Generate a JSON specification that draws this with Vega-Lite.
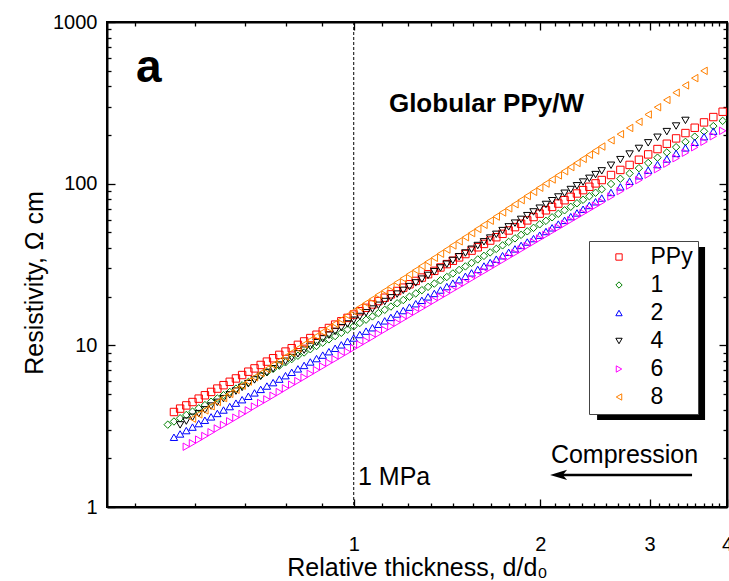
{
"$schema":"https://vega.github.io/schema/vega-lite/v6.json",
"width":620,"height":485,
"autosize":{"type":"none"},
"padding":{"left":107,"top":22,"right":2,"bottom":74},
"background":"white",
"config":{"view":{"stroke":"black","strokeWidth":2},"font":"Liberation Sans",
"axis":{"grid":false,"domainColor":"black","domainWidth":2,"tickColor":"black","tickWidth":1.3,"labelColor":"black","labelFont":"Liberation Sans","labelFontSize":20,"titleFont":"Liberation Sans","titleFontSize":25,"titleFontWeight":"normal","titleColor":"black","labelOverlap":false,"labelFlush":false}},
"datasets":{"pts":[
{"s":"PPy","x":0.5129,"y":3.87},{"s":"PPy","x":0.5248,"y":4.06},{"s":"PPy","x":0.537,"y":4.25},{"s":"PPy","x":0.5495,"y":4.46},{"s":"PPy","x":0.5623,"y":4.68},{"s":"PPy","x":0.5754,"y":4.91},{"s":"PPy","x":0.5888,"y":5.15},{"s":"PPy","x":0.6026,"y":5.40},{"s":"PPy","x":0.6166,"y":5.67},{"s":"PPy","x":0.631,"y":5.95},{"s":"PPy","x":0.6457,"y":6.24},{"s":"PPy","x":0.6607,"y":6.55},{"s":"PPy","x":0.6761,"y":6.87},{"s":"PPy","x":0.6918,"y":7.20},{"s":"PPy","x":0.7079,"y":7.56},{"s":"PPy","x":0.7244,"y":7.93},{"s":"PPy","x":0.7413,"y":8.32},{"s":"PPy","x":0.7586,"y":8.73},{"s":"PPy","x":0.7762,"y":9.15},{"s":"PPy","x":0.7943,"y":9.60},{"s":"PPy","x":0.8128,"y":10.07},{"s":"PPy","x":0.8318,"y":10.57},{"s":"PPy","x":0.8511,"y":11.09},{"s":"PPy","x":0.871,"y":11.63},{"s":"PPy","x":0.8913,"y":12.20},{"s":"PPy","x":0.912,"y":12.80},{"s":"PPy","x":0.9333,"y":13.43},{"s":"PPy","x":0.955,"y":14.09},{"s":"PPy","x":0.9772,"y":14.78},{"s":"PPy","x":1,"y":15.50},{"s":"PPy","x":1.023,"y":16.26},{"s":"PPy","x":1.047,"y":17.06},{"s":"PPy","x":1.072,"y":17.90},{"s":"PPy","x":1.096,"y":18.78},{"s":"PPy","x":1.122,"y":19.70},{"s":"PPy","x":1.148,"y":20.67},{"s":"PPy","x":1.175,"y":21.68},{"s":"PPy","x":1.202,"y":22.74},{"s":"PPy","x":1.23,"y":23.86},{"s":"PPy","x":1.259,"y":25.03},{"s":"PPy","x":1.288,"y":26.26},{"s":"PPy","x":1.318,"y":27.54},{"s":"PPy","x":1.349,"y":28.89},{"s":"PPy","x":1.38,"y":30.31},{"s":"PPy","x":1.413,"y":31.80},{"s":"PPy","x":1.445,"y":33.36},{"s":"PPy","x":1.479,"y":35.00},{"s":"PPy","x":1.514,"y":36.71},{"s":"PPy","x":1.549,"y":38.52},{"s":"PPy","x":1.585,"y":40.41},{"s":"PPy","x":1.622,"y":42.39},{"s":"PPy","x":1.66,"y":44.47},{"s":"PPy","x":1.698,"y":46.64},{"s":"PPy","x":1.738,"y":48.94},{"s":"PPy","x":1.778,"y":51.34},{"s":"PPy","x":1.82,"y":53.85},{"s":"PPy","x":1.862,"y":56.49},{"s":"PPy","x":1.905,"y":59.27},{"s":"PPy","x":1.95,"y":62.18},{"s":"PPy","x":1.995,"y":65.23},{"s":"PPy","x":2.042,"y":68.43},{"s":"PPy","x":2.089,"y":71.78},{"s":"PPy","x":2.138,"y":75.31},{"s":"PPy","x":2.188,"y":79.00},{"s":"PPy","x":2.239,"y":82.88},{"s":"PPy","x":2.291,"y":86.94},{"s":"PPy","x":2.344,"y":91.20},{"s":"PPy","x":2.399,"y":95.68},{"s":"PPy","x":2.455,"y":100.4},{"s":"PPy","x":2.512,"y":105.3},{"s":"PPy","x":2.6,"y":113.1},{"s":"PPy","x":2.692,"y":121.6},{"s":"PPy","x":2.786,"y":130.6},{"s":"PPy","x":2.884,"y":140.6},{"s":"PPy","x":2.985,"y":151.7},{"s":"PPy","x":3.09,"y":163.7},{"s":"PPy","x":3.199,"y":176.6},{"s":"PPy","x":3.311,"y":190.5},{"s":"PPy","x":3.428,"y":205.6},{"s":"PPy","x":3.548,"y":221.8},{"s":"PPy","x":3.673,"y":239.3},{"s":"PPy","x":3.802,"y":258.2},{"s":"PPy","x":3.936,"y":278.6},
{"s":"1","x":0.5012,"y":3.23},{"s":"1","x":0.5129,"y":3.38},{"s":"1","x":0.5248,"y":3.54},{"s":"1","x":0.537,"y":3.71},{"s":"1","x":0.5495,"y":3.89},{"s":"1","x":0.5623,"y":4.08},{"s":"1","x":0.5754,"y":4.27},{"s":"1","x":0.5888,"y":4.48},{"s":"1","x":0.6026,"y":4.69},{"s":"1","x":0.6166,"y":4.92},{"s":"1","x":0.631,"y":5.15},{"s":"1","x":0.6457,"y":5.40},{"s":"1","x":0.6607,"y":5.66},{"s":"1","x":0.6761,"y":5.93},{"s":"1","x":0.6918,"y":6.21},{"s":"1","x":0.7079,"y":6.51},{"s":"1","x":0.7244,"y":6.82},{"s":"1","x":0.7413,"y":7.15},{"s":"1","x":0.7586,"y":7.49},{"s":"1","x":0.7762,"y":7.85},{"s":"1","x":0.7943,"y":8.22},{"s":"1","x":0.8128,"y":8.62},{"s":"1","x":0.8318,"y":9.03},{"s":"1","x":0.8511,"y":9.46},{"s":"1","x":0.871,"y":9.91},{"s":"1","x":0.8913,"y":10.39},{"s":"1","x":0.912,"y":10.89},{"s":"1","x":0.9333,"y":11.41},{"s":"1","x":0.955,"y":11.95},{"s":"1","x":0.9772,"y":12.52},{"s":"1","x":1,"y":13.12},{"s":"1","x":1.023,"y":13.75},{"s":"1","x":1.047,"y":14.41},{"s":"1","x":1.072,"y":15.10},{"s":"1","x":1.096,"y":15.82},{"s":"1","x":1.122,"y":16.58},{"s":"1","x":1.148,"y":17.37},{"s":"1","x":1.175,"y":18.20},{"s":"1","x":1.202,"y":19.07},{"s":"1","x":1.23,"y":19.99},{"s":"1","x":1.259,"y":20.94},{"s":"1","x":1.288,"y":21.94},{"s":"1","x":1.318,"y":22.99},{"s":"1","x":1.349,"y":24.09},{"s":"1","x":1.38,"y":25.25},{"s":"1","x":1.413,"y":26.46},{"s":"1","x":1.445,"y":27.84},{"s":"1","x":1.479,"y":29.27},{"s":"1","x":1.514,"y":30.77},{"s":"1","x":1.549,"y":32.34},{"s":"1","x":1.585,"y":34.00},{"s":"1","x":1.622,"y":35.75},{"s":"1","x":1.66,"y":37.58},{"s":"1","x":1.698,"y":39.50},{"s":"1","x":1.738,"y":41.53},{"s":"1","x":1.778,"y":43.65},{"s":"1","x":1.82,"y":45.89},{"s":"1","x":1.862,"y":48.24},{"s":"1","x":1.905,"y":50.72},{"s":"1","x":1.95,"y":53.31},{"s":"1","x":1.995,"y":56.04},{"s":"1","x":2.042,"y":58.91},{"s":"1","x":2.089,"y":61.93},{"s":"1","x":2.138,"y":65.11},{"s":"1","x":2.188,"y":68.44},{"s":"1","x":2.239,"y":71.95},{"s":"1","x":2.291,"y":75.64},{"s":"1","x":2.344,"y":79.50},{"s":"1","x":2.399,"y":83.59},{"s":"1","x":2.455,"y":87.87},{"s":"1","x":2.512,"y":92.37},{"s":"1","x":2.6,"y":99.56},{"s":"1","x":2.692,"y":107.3},{"s":"1","x":2.786,"y":115.7},{"s":"1","x":2.884,"y":124.7},{"s":"1","x":2.985,"y":134.4},{"s":"1","x":3.09,"y":144.8},{"s":"1","x":3.199,"y":156.1},{"s":"1","x":3.311,"y":168.2},{"s":"1","x":3.428,"y":181.4},{"s":"1","x":3.548,"y":195.4},{"s":"1","x":3.673,"y":210.7},{"s":"1","x":3.802,"y":227.1},{"s":"1","x":3.936,"y":244.7},
{"s":"2","x":0.5129,"y":2.70},{"s":"2","x":0.5248,"y":2.83},{"s":"2","x":0.537,"y":2.97},{"s":"2","x":0.5495,"y":3.12},{"s":"2","x":0.5623,"y":3.28},{"s":"2","x":0.5754,"y":3.44},{"s":"2","x":0.5888,"y":3.61},{"s":"2","x":0.6026,"y":3.79},{"s":"2","x":0.6166,"y":3.98},{"s":"2","x":0.631,"y":4.18},{"s":"2","x":0.6457,"y":4.39},{"s":"2","x":0.6607,"y":4.61},{"s":"2","x":0.6761,"y":4.84},{"s":"2","x":0.6918,"y":5.08},{"s":"2","x":0.7079,"y":5.34},{"s":"2","x":0.7244,"y":5.60},{"s":"2","x":0.7413,"y":5.88},{"s":"2","x":0.7586,"y":6.18},{"s":"2","x":0.7762,"y":6.49},{"s":"2","x":0.7943,"y":6.81},{"s":"2","x":0.8128,"y":7.15},{"s":"2","x":0.8318,"y":7.51},{"s":"2","x":0.8511,"y":7.89},{"s":"2","x":0.871,"y":8.28},{"s":"2","x":0.8913,"y":8.70},{"s":"2","x":0.912,"y":9.13},{"s":"2","x":0.9333,"y":9.59},{"s":"2","x":0.955,"y":10.07},{"s":"2","x":0.9772,"y":10.57},{"s":"2","x":1,"y":11.10},{"s":"2","x":1.023,"y":11.66},{"s":"2","x":1.047,"y":12.24},{"s":"2","x":1.072,"y":12.85},{"s":"2","x":1.096,"y":13.50},{"s":"2","x":1.122,"y":14.17},{"s":"2","x":1.148,"y":14.88},{"s":"2","x":1.175,"y":15.62},{"s":"2","x":1.202,"y":16.41},{"s":"2","x":1.23,"y":17.23},{"s":"2","x":1.259,"y":18.09},{"s":"2","x":1.288,"y":18.99},{"s":"2","x":1.318,"y":19.94},{"s":"2","x":1.349,"y":20.94},{"s":"2","x":1.38,"y":21.99},{"s":"2","x":1.413,"y":23.09},{"s":"2","x":1.445,"y":24.25},{"s":"2","x":1.479,"y":25.46},{"s":"2","x":1.514,"y":26.73},{"s":"2","x":1.549,"y":28.07},{"s":"2","x":1.585,"y":29.47},{"s":"2","x":1.622,"y":30.95},{"s":"2","x":1.66,"y":32.50},{"s":"2","x":1.698,"y":34.12},{"s":"2","x":1.738,"y":35.83},{"s":"2","x":1.778,"y":37.62},{"s":"2","x":1.82,"y":39.50},{"s":"2","x":1.862,"y":41.48},{"s":"2","x":1.905,"y":43.55},{"s":"2","x":1.95,"y":45.73},{"s":"2","x":1.995,"y":48.02},{"s":"2","x":2.042,"y":50.59},{"s":"2","x":2.089,"y":53.33},{"s":"2","x":2.138,"y":56.23},{"s":"2","x":2.188,"y":59.29},{"s":"2","x":2.239,"y":62.52},{"s":"2","x":2.291,"y":65.92},{"s":"2","x":2.344,"y":69.50},{"s":"2","x":2.399,"y":73.29},{"s":"2","x":2.455,"y":77.27},{"s":"2","x":2.512,"y":81.47},{"s":"2","x":2.6,"y":88.22},{"s":"2","x":2.692,"y":95.50},{"s":"2","x":2.786,"y":103.4},{"s":"2","x":2.884,"y":111.9},{"s":"2","x":2.985,"y":121.2},{"s":"2","x":3.09,"y":131.2},{"s":"2","x":3.199,"y":142.1},{"s":"2","x":3.311,"y":153.8},{"s":"2","x":3.428,"y":166.5},{"s":"2","x":3.548,"y":180.3},{"s":"2","x":3.673,"y":195.2},{"s":"2","x":3.802,"y":211.4},
{"s":"4","x":0.5248,"y":3.22},{"s":"4","x":0.537,"y":3.40},{"s":"4","x":0.5495,"y":3.59},{"s":"4","x":0.5623,"y":3.78},{"s":"4","x":0.5754,"y":3.99},{"s":"4","x":0.5888,"y":4.21},{"s":"4","x":0.6026,"y":4.44},{"s":"4","x":0.6166,"y":4.68},{"s":"4","x":0.631,"y":4.94},{"s":"4","x":0.6457,"y":5.21},{"s":"4","x":0.6607,"y":5.49},{"s":"4","x":0.6761,"y":5.79},{"s":"4","x":0.6918,"y":6.11},{"s":"4","x":0.7079,"y":6.44},{"s":"4","x":0.7244,"y":6.79},{"s":"4","x":0.7413,"y":7.16},{"s":"4","x":0.7586,"y":7.55},{"s":"4","x":0.7762,"y":7.97},{"s":"4","x":0.7943,"y":8.40},{"s":"4","x":0.8128,"y":8.86},{"s":"4","x":0.8318,"y":9.34},{"s":"4","x":0.8511,"y":9.85},{"s":"4","x":0.871,"y":10.39},{"s":"4","x":0.8913,"y":10.96},{"s":"4","x":0.912,"y":11.56},{"s":"4","x":0.9333,"y":12.19},{"s":"4","x":0.955,"y":12.86},{"s":"4","x":0.9772,"y":13.56},{"s":"4","x":1,"y":14.30},{"s":"4","x":1.023,"y":15.08},{"s":"4","x":1.047,"y":15.90},{"s":"4","x":1.072,"y":16.77},{"s":"4","x":1.096,"y":17.69},{"s":"4","x":1.122,"y":18.66},{"s":"4","x":1.148,"y":19.68},{"s":"4","x":1.175,"y":20.75},{"s":"4","x":1.202,"y":21.88},{"s":"4","x":1.23,"y":23.08},{"s":"4","x":1.259,"y":24.34},{"s":"4","x":1.288,"y":25.67},{"s":"4","x":1.318,"y":27.07},{"s":"4","x":1.349,"y":28.55},{"s":"4","x":1.38,"y":30.11},{"s":"4","x":1.413,"y":31.76},{"s":"4","x":1.445,"y":33.49},{"s":"4","x":1.479,"y":35.32},{"s":"4","x":1.514,"y":37.25},{"s":"4","x":1.549,"y":39.29},{"s":"4","x":1.585,"y":41.43},{"s":"4","x":1.622,"y":43.69},{"s":"4","x":1.66,"y":46.08},{"s":"4","x":1.698,"y":48.60},{"s":"4","x":1.738,"y":51.25},{"s":"4","x":1.778,"y":54.05},{"s":"4","x":1.82,"y":57.00},{"s":"4","x":1.862,"y":60.12},{"s":"4","x":1.905,"y":63.41},{"s":"4","x":1.95,"y":66.87},{"s":"4","x":1.995,"y":70.52},{"s":"4","x":2.042,"y":74.37},{"s":"4","x":2.089,"y":78.43},{"s":"4","x":2.138,"y":82.72},{"s":"4","x":2.188,"y":87.24},{"s":"4","x":2.239,"y":92.01},{"s":"4","x":2.291,"y":97.03},{"s":"4","x":2.344,"y":102.3},{"s":"4","x":2.399,"y":107.9},{"s":"4","x":2.455,"y":113.8},{"s":"4","x":2.512,"y":120.0},{"s":"4","x":2.6,"y":130.0},{"s":"4","x":2.692,"y":140.8},{"s":"4","x":2.786,"y":152.5},{"s":"4","x":2.884,"y":165.2},{"s":"4","x":2.985,"y":178.9},{"s":"4","x":3.09,"y":193.7},{"s":"4","x":3.199,"y":209.9},{"s":"4","x":3.311,"y":227.3},{"s":"4","x":3.428,"y":246.2},
{"s":"6","x":0.537,"y":2.36},{"s":"6","x":0.5495,"y":2.48},{"s":"6","x":0.5623,"y":2.61},{"s":"6","x":0.5754,"y":2.75},{"s":"6","x":0.5888,"y":2.90},{"s":"6","x":0.6026,"y":3.06},{"s":"6","x":0.6166,"y":3.22},{"s":"6","x":0.631,"y":3.39},{"s":"6","x":0.6457,"y":3.57},{"s":"6","x":0.6607,"y":3.76},{"s":"6","x":0.6761,"y":3.96},{"s":"6","x":0.6918,"y":4.18},{"s":"6","x":0.7079,"y":4.40},{"s":"6","x":0.7244,"y":4.63},{"s":"6","x":0.7413,"y":4.88},{"s":"6","x":0.7586,"y":5.14},{"s":"6","x":0.7762,"y":5.42},{"s":"6","x":0.7943,"y":5.71},{"s":"6","x":0.8128,"y":6.01},{"s":"6","x":0.8318,"y":6.33},{"s":"6","x":0.8511,"y":6.67},{"s":"6","x":0.871,"y":7.03},{"s":"6","x":0.8913,"y":7.40},{"s":"6","x":0.912,"y":7.80},{"s":"6","x":0.9333,"y":8.21},{"s":"6","x":0.955,"y":8.65},{"s":"6","x":0.9772,"y":9.11},{"s":"6","x":1,"y":9.60},{"s":"6","x":1.023,"y":10.11},{"s":"6","x":1.047,"y":10.65},{"s":"6","x":1.072,"y":11.22},{"s":"6","x":1.096,"y":11.82},{"s":"6","x":1.122,"y":12.46},{"s":"6","x":1.148,"y":13.12},{"s":"6","x":1.175,"y":13.82},{"s":"6","x":1.202,"y":14.56},{"s":"6","x":1.23,"y":15.34},{"s":"6","x":1.259,"y":16.16},{"s":"6","x":1.288,"y":17.02},{"s":"6","x":1.318,"y":17.93},{"s":"6","x":1.349,"y":18.89},{"s":"6","x":1.38,"y":19.89},{"s":"6","x":1.413,"y":20.96},{"s":"6","x":1.445,"y":22.08},{"s":"6","x":1.479,"y":23.26},{"s":"6","x":1.514,"y":24.50},{"s":"6","x":1.549,"y":25.81},{"s":"6","x":1.585,"y":27.19},{"s":"6","x":1.622,"y":28.64},{"s":"6","x":1.66,"y":30.17},{"s":"6","x":1.698,"y":31.78},{"s":"6","x":1.738,"y":33.48},{"s":"6","x":1.778,"y":35.26},{"s":"6","x":1.82,"y":37.15},{"s":"6","x":1.862,"y":39.13},{"s":"6","x":1.905,"y":41.22},{"s":"6","x":1.95,"y":43.42},{"s":"6","x":1.995,"y":45.74},{"s":"6","x":2.042,"y":48.18},{"s":"6","x":2.089,"y":50.76},{"s":"6","x":2.138,"y":53.47},{"s":"6","x":2.188,"y":56.32},{"s":"6","x":2.239,"y":59.34},{"s":"6","x":2.291,"y":62.51},{"s":"6","x":2.344,"y":65.85},{"s":"6","x":2.399,"y":69.36},{"s":"6","x":2.455,"y":73.07},{"s":"6","x":2.512,"y":76.97},{"s":"6","x":2.6,"y":83.22},{"s":"6","x":2.692,"y":89.98},{"s":"6","x":2.786,"y":97.28},{"s":"6","x":2.884,"y":105.2},{"s":"6","x":2.985,"y":113.7},{"s":"6","x":3.09,"y":122.9},{"s":"6","x":3.199,"y":132.9},{"s":"6","x":3.311,"y":143.7},{"s":"6","x":3.428,"y":155.4},{"s":"6","x":3.548,"y":168.0},{"s":"6","x":3.673,"y":181.6},{"s":"6","x":3.802,"y":196.4},{"s":"6","x":3.936,"y":212.3},
{"s":"8","x":0.5495,"y":3.52},{"s":"8","x":0.5623,"y":3.74},{"s":"8","x":0.5754,"y":3.96},{"s":"8","x":0.5888,"y":4.20},{"s":"8","x":0.6026,"y":4.46},{"s":"8","x":0.6166,"y":4.72},{"s":"8","x":0.631,"y":5.01},{"s":"8","x":0.6457,"y":5.31},{"s":"8","x":0.6607,"y":5.63},{"s":"8","x":0.6761,"y":5.97},{"s":"8","x":0.6918,"y":6.34},{"s":"8","x":0.7079,"y":6.72},{"s":"8","x":0.7244,"y":7.13},{"s":"8","x":0.7413,"y":7.56},{"s":"8","x":0.7586,"y":8.01},{"s":"8","x":0.7762,"y":8.50},{"s":"8","x":0.7943,"y":9.01},{"s":"8","x":0.8128,"y":9.56},{"s":"8","x":0.8318,"y":10.13},{"s":"8","x":0.8511,"y":10.75},{"s":"8","x":0.871,"y":11.40},{"s":"8","x":0.8913,"y":12.09},{"s":"8","x":0.912,"y":12.82},{"s":"8","x":0.9333,"y":13.59},{"s":"8","x":0.955,"y":14.42},{"s":"8","x":0.9772,"y":15.29},{"s":"8","x":1,"y":16.21},{"s":"8","x":1.023,"y":17.19},{"s":"8","x":1.047,"y":18.23},{"s":"8","x":1.072,"y":19.33},{"s":"8","x":1.096,"y":20.50},{"s":"8","x":1.122,"y":21.74},{"s":"8","x":1.148,"y":23.06},{"s":"8","x":1.175,"y":24.45},{"s":"8","x":1.202,"y":25.93},{"s":"8","x":1.23,"y":27.50},{"s":"8","x":1.259,"y":29.16},{"s":"8","x":1.288,"y":30.93},{"s":"8","x":1.318,"y":32.80},{"s":"8","x":1.349,"y":34.78},{"s":"8","x":1.38,"y":36.88},{"s":"8","x":1.413,"y":39.11},{"s":"8","x":1.445,"y":41.48},{"s":"8","x":1.479,"y":43.99},{"s":"8","x":1.514,"y":46.64},{"s":"8","x":1.549,"y":49.47},{"s":"8","x":1.585,"y":52.46},{"s":"8","x":1.622,"y":55.63},{"s":"8","x":1.66,"y":58.99},{"s":"8","x":1.698,"y":62.57},{"s":"8","x":1.738,"y":66.35},{"s":"8","x":1.778,"y":70.36},{"s":"8","x":1.82,"y":74.61},{"s":"8","x":1.862,"y":79.12},{"s":"8","x":1.905,"y":83.91},{"s":"8","x":1.95,"y":88.99},{"s":"8","x":1.995,"y":94.37},{"s":"8","x":2.042,"y":100.1},{"s":"8","x":2.089,"y":106.1},{"s":"8","x":2.138,"y":112.5},{"s":"8","x":2.188,"y":119.4},{"s":"8","x":2.239,"y":126.6},{"s":"8","x":2.291,"y":134.2},{"s":"8","x":2.344,"y":142.3},{"s":"8","x":2.399,"y":151.0},{"s":"8","x":2.455,"y":160.1},{"s":"8","x":2.512,"y":169.7},{"s":"8","x":2.6,"y":185.4},{"s":"8","x":2.692,"y":202.5},{"s":"8","x":2.786,"y":221.1},{"s":"8","x":2.884,"y":241.5},{"s":"8","x":2.985,"y":267.8},{"s":"8","x":3.09,"y":297.1},{"s":"8","x":3.199,"y":329.5},{"s":"8","x":3.311,"y":365.5},{"s":"8","x":3.428,"y":405.4},{"s":"8","x":3.548,"y":449.6},{"s":"8","x":3.673,"y":498.7}
]},
"layer":[
{"data":{"values":[{}]},
 "mark":{"type":"rect","color":"black"},
 "encoding":{
  "x":{"datum":2.469,"type":"quantitative","scale":{"type":"log","domain":[0.4,4],"nice":false},
       "axis":{"orient":"top","values":[0.4444,0.5556,0.6667,0.7778,0.8889,1,1.111,1.222,1.333,1.444,1.556,1.667,1.778,1.889,2,2.111,2.222,2.333,2.444,2.556,2.667,2.778,2.889,3,3.111,3.222,3.333,3.444,3.556,3.667,3.778,3.889,4],"labels":false,"title":null,
       "tickSize":{"condition":{"test":"indexof([1,2,3,4], datum.value) >= 0","value":-8},"value":-4}}},
  "x2":{"datum":3.687},
  "y":{"datum":40.6,"type":"quantitative","scale":{"type":"log","domain":[1,1000],"nice":false},
       "axis":{"orient":"right","values":[1,2,3,4,5,6,7,8,9,10,20,30,40,50,60,70,80,90,100,200,300,400,500,600,700,800,900,1000],"labels":false,"title":null,
       "tickSize":{"condition":{"test":"indexof([1,10,100,1000], datum.value) >= 0","value":-8},"value":-4}}},
  "y2":{"datum":3.45}}},
{"data":{"values":[{}]},
 "mark":{"type":"rule","strokeDash":[3,2],"color":"black","strokeWidth":1},
 "encoding":{"x":{"datum":1,"type":"quantitative","scale":{"type":"log","domain":[0.4,4],"nice":false},"axis":null}}},
{"data":{"name":"pts"},
 "mark":{"type":"point","filled":false,"size":55,"strokeWidth":1,"opacity":1},
 "encoding":{
  "x":{"field":"x","type":"quantitative","scale":{"type":"log","domain":[0.4,4],"nice":false},
       "axis":{"orient":"bottom","values":[0.4444,0.5556,0.6667,0.7778,0.8889,1,1.111,1.222,1.333,1.444,1.556,1.667,1.778,1.889,2,2.111,2.222,2.333,2.444,2.556,2.667,2.778,2.889,3,3.111,3.222,3.333,3.444,3.556,3.667,3.778,3.889,4],
       "labelExpr":"indexof([1,2,3,4], datum.value) >= 0 ? '' + datum.value : ''",
       "tickSize":{"condition":{"test":"indexof([1,2,3,4], datum.value) >= 0","value":-8},"value":-4},
       "labelPadding":35,"title":"Relative thickness, d/d₀","titleBaseline":"alphabetic","titleY":68}},
  "y":{"field":"y","type":"quantitative","scale":{"type":"log","domain":[1,1000],"nice":false},
       "axis":{"orient":"left","values":[1,2,3,4,5,6,7,8,9,10,20,30,40,50,60,70,80,90,100,200,300,400,500,600,700,800,900,1000],
       "labelExpr":"indexof([1,10,100,1000], datum.value) >= 0 ? '' + datum.value : ''",
       "tickSize":{"condition":{"test":"indexof([1,10,100,1000], datum.value) >= 0","value":-8},"value":-4},
       "labelPadding":18,"title":"Resistivity, Ω cm","titleBaseline":"alphabetic","titleX":-65,"titleY":260.5,"titleAngle":270}},
  "color":{"field":"s","type":"nominal","scale":{"domain":["PPy","1","2","4","6","8"],"range":["#FF0000","#008000","#0000FF","#000000","#FF00FF","#FF8000"]},
       "legend":{"title":null,"orient":"none","legendX":482,"legendY":219,"padding":4.5,"fillColor":"white","strokeColor":"#444444","labelFontSize":23,"labelFont":"Liberation Sans","labelColor":"black","symbolSize":40,"symbolStrokeWidth":1,"rowPadding":4,"labelOffset":20,"symbolOffset":14}},
  "shape":{"field":"s","type":"nominal","scale":{"domain":["PPy","1","2","4","6","8"],"range":["square","diamond","triangle-up","triangle-down","triangle-right","triangle-left"]},
       "legend":{"title":null,"orient":"none","legendX":482,"legendY":219,"padding":4.5,"fillColor":"white","strokeColor":"#444444","labelFontSize":23,"labelFont":"Liberation Sans","labelColor":"black","symbolSize":40,"symbolStrokeWidth":1,"rowPadding":4,"labelOffset":20,"symbolOffset":14}}}},
{"data":{"values":[{}]},
 "mark":{"type":"text","text":"a","font":"Liberation Sans","fontSize":46,"fontWeight":"bold","align":"left","baseline":"alphabetic","color":"black"},
 "encoding":{"x":{"datum":0.4456,"type":"quantitative","scale":{"type":"log","domain":[0.4,4],"nice":false},"axis":null},
  "y":{"datum":425.5,"type":"quantitative","scale":{"type":"log","domain":[1,1000],"nice":false},"axis":null}}},
{"data":{"values":[{}]},
 "mark":{"type":"text","text":"Globular PPy/W","font":"Liberation Sans","fontSize":26,"fontWeight":"bold","align":"center","baseline":"alphabetic","color":"black"},
 "encoding":{"x":{"datum":1.637,"type":"quantitative","scale":{"type":"log","domain":[0.4,4],"nice":false},"axis":null},
  "y":{"datum":278.7,"type":"quantitative","scale":{"type":"log","domain":[1,1000],"nice":false},"axis":null}}},
{"data":{"values":[{}]},
 "mark":{"type":"text","text":"1 MPa","font":"Liberation Sans","fontSize":25,"align":"left","baseline":"alphabetic","color":"black"},
 "encoding":{"x":{"datum":1.016,"type":"quantitative","scale":{"type":"log","domain":[0.4,4],"nice":false},"axis":null},
  "y":{"datum":1.368,"type":"quantitative","scale":{"type":"log","domain":[1,1000],"nice":false},"axis":null}}},
{"data":{"values":[{}]},
 "mark":{"type":"text","text":"Compression","font":"Liberation Sans","fontSize":25,"align":"center","baseline":"alphabetic","color":"black"},
 "encoding":{"x":{"datum":2.734,"type":"quantitative","scale":{"type":"log","domain":[0.4,4],"nice":false},"axis":null},
  "y":{"datum":1.871,"type":"quantitative","scale":{"type":"log","domain":[1,1000],"nice":false},"axis":null}}},
{"data":{"values":[{}]},
 "mark":{"type":"rule","color":"black","strokeWidth":2.5},
 "encoding":{"x":{"datum":3.513,"type":"quantitative","scale":{"type":"log","domain":[0.4,4],"nice":false},"axis":null},
  "x2":{"datum":2.151},
  "y":{"datum":1.578,"type":"quantitative","scale":{"type":"log","domain":[1,1000],"nice":false},"axis":null}}},
{"data":{"values":[{}]},
 "mark":{"type":"point","shape":"M -1 0 L 1 -0.6 L 0.5 0 L 1 0.6 Z","filled":true,"size":289,"color":"black","opacity":1},
 "encoding":{"x":{"datum":2.14,"type":"quantitative","scale":{"type":"log","domain":[0.4,4],"nice":false},"axis":null},
  "y":{"datum":1.578,"type":"quantitative","scale":{"type":"log","domain":[1,1000],"nice":false},"axis":null}}}
],
"resolve":{"axis":{"x":"independent","y":"independent"}}
}
